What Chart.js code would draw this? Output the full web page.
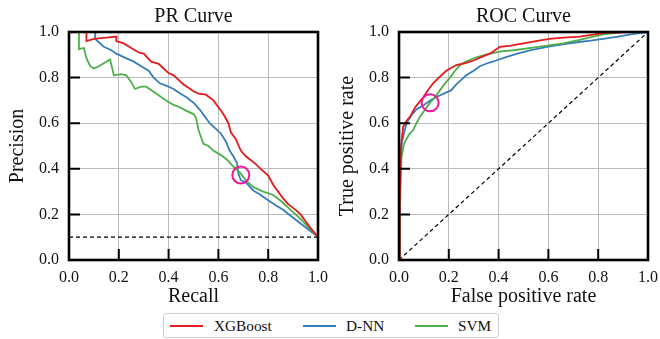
<!DOCTYPE html>
<html>
<head>
<meta charset="utf-8">
<script src="https://cdn.jsdelivr.net/npm/chart.js@4/dist/chart.umd.min.js"></script>
<style>
  body { margin: 0; background: #fff; width: 660px; height: 339px; overflow: hidden; font-family: "Liberation Serif", serif; }
  #prChart { position: absolute; left: 0; top: 0; }
  #rocChart { position: absolute; left: 330px; top: 0; }
  #legend { position: absolute; left: 163px; top: 313px; width: 336px; height: 25px; border: 1px solid #cfcfcf; border-radius: 3px; box-sizing: border-box; font-size: 15.3px; color: #111; }
  .item { position: absolute; top: 2px; line-height: 19px; }
  .swatch { position: absolute; top: 11px; height: 2px; width: 33px; }
</style>
</head>
<body>
<canvas id="prChart" width="330" height="310"></canvas>
<canvas id="rocChart" width="330" height="310"></canvas>
<div id="legend">
  <span class="swatch" style="left:6px;background:#e41a1c"></span><span class="item" style="left:50px">XGBoost</span>
  <span class="swatch" style="left:139px;background:#377eb8"></span><span class="item" style="left:182px">D-NN</span>
  <span class="swatch" style="left:251px;background:#4daf4a"></span><span class="item" style="left:294px">SVM</span>
</div>
<script>
const models = ["XGBoost", "D-NN", "SVM"];
const colors = ["#e41a1c", "#377eb8", "#4daf4a"];
const tickValues = [0, 0.2, 0.4, 0.6, 0.8, 1.0];

// PR curves (recall, precision)
const xgbRecall = [0.07,0.07,0.10,0.15,0.19,0.19,0.22,0.25,0.28,0.30,0.33,0.36,0.38,0.40,0.42,0.44,0.46,0.48,0.50,0.52,0.55,0.58,0.60,0.62,0.64,0.65,0.67,0.69,0.71,0.74,0.77,0.80,0.82,0.84,0.86,0.88,0.91,0.93,0.95,0.97,0.99,1.0];
const xgbPrecision = [1.0,0.96,0.97,0.975,0.98,0.96,0.95,0.93,0.91,0.905,0.87,0.86,0.84,0.82,0.81,0.79,0.77,0.755,0.74,0.73,0.725,0.70,0.67,0.64,0.60,0.56,0.53,0.48,0.455,0.43,0.40,0.37,0.33,0.30,0.27,0.245,0.22,0.20,0.17,0.14,0.115,0.10];
const dnnRecall = [0.105,0.105,0.12,0.14,0.17,0.19,0.22,0.26,0.29,0.32,0.34,0.365,0.39,0.42,0.44,0.47,0.50,0.525,0.545,0.565,0.59,0.61,0.63,0.645,0.66,0.675,0.68,0.69,0.71,0.74,0.77,0.795,0.83,0.86,0.90,0.93,0.96,0.99,1.0];
const dnnPrecision = [1.0,0.97,0.955,0.935,0.92,0.905,0.89,0.87,0.85,0.83,0.80,0.775,0.765,0.75,0.735,0.715,0.69,0.66,0.63,0.60,0.575,0.555,0.52,0.48,0.455,0.425,0.38,0.35,0.34,0.305,0.285,0.265,0.24,0.22,0.185,0.16,0.135,0.11,0.10];
const svmRecall = [0.04,0.04,0.06,0.07,0.085,0.10,0.12,0.165,0.18,0.21,0.23,0.25,0.265,0.29,0.31,0.35,0.39,0.42,0.445,0.47,0.50,0.51,0.52,0.54,0.56,0.58,0.61,0.635,0.66,0.685,0.71,0.74,0.78,0.82,0.85,0.89,0.93,0.96,1.0];
const svmPrecision = [1.0,0.925,0.93,0.885,0.85,0.84,0.85,0.88,0.81,0.815,0.81,0.78,0.75,0.76,0.76,0.73,0.70,0.68,0.67,0.655,0.64,0.625,0.57,0.51,0.50,0.48,0.46,0.44,0.41,0.385,0.35,0.32,0.30,0.285,0.26,0.22,0.18,0.145,0.10];
const prBaseline = 0.1;
const prMarker = [0.69, 0.373];

// ROC curves (fpr, tpr)
const xgbFpr = [0,0.003,0.005,0.01,0.017,0.03,0.045,0.065,0.08,0.098,0.12,0.137,0.16,0.19,0.23,0.27,0.30,0.33,0.365,0.405,0.45,0.50,0.55,0.605,0.66,0.725,0.82,0.93,1.0];
const xgbTpr = [0,0.25,0.40,0.52,0.585,0.61,0.63,0.67,0.69,0.715,0.75,0.775,0.80,0.83,0.855,0.865,0.875,0.89,0.905,0.935,0.94,0.95,0.96,0.97,0.975,0.98,0.995,1.0,1.0];
const dnnFpr = [0,0.004,0.007,0.01,0.03,0.05,0.07,0.10,0.125,0.15,0.18,0.21,0.23,0.25,0.27,0.30,0.325,0.36,0.39,0.43,0.475,0.53,0.595,0.65,0.715,0.77,0.82,0.88,0.93,1.0];
const dnnTpr = [0,0.30,0.42,0.51,0.60,0.635,0.66,0.68,0.70,0.715,0.73,0.745,0.77,0.79,0.81,0.83,0.85,0.865,0.875,0.89,0.905,0.92,0.935,0.945,0.955,0.962,0.97,0.98,0.99,1.0];
const svmFpr = [0,0.004,0.008,0.01,0.02,0.04,0.057,0.07,0.085,0.105,0.125,0.145,0.165,0.185,0.205,0.225,0.245,0.27,0.30,0.33,0.365,0.41,0.46,0.53,0.595,0.66,0.725,0.78,0.82,0.90,1.0];
const svmTpr = [0,0.22,0.38,0.45,0.51,0.55,0.57,0.60,0.63,0.66,0.69,0.715,0.745,0.775,0.80,0.83,0.855,0.87,0.885,0.895,0.905,0.915,0.92,0.93,0.94,0.95,0.965,0.98,0.99,1.0,1.0];
const rocMarker = [0.125, 0.69];

const serif = "'Liberation Serif', 'Times New Roman', serif";

function pts(xs, ys) { return xs.map((x, i) => ({ x: x, y: ys[i] })); }

function curve(label, data, color) {
    return { label: label, data: data, borderColor: color, borderWidth: 1.8, pointRadius: 0, fill: false, tension: 0, showLine: true };
}

// frame + inward ticks like the matplotlib original
const framePlugin = {
    id: "frame",
    afterDraw(chart) {
        const { ctx, chartArea: a, scales } = chart;
        ctx.save();
        ctx.strokeStyle = "#000";
        ctx.lineWidth = 2;
        tickValues.forEach(v => {
            const px = scales.x.getPixelForValue(v);
            const py = scales.y.getPixelForValue(v);
            ctx.beginPath();
            ctx.moveTo(px, a.bottom); ctx.lineTo(px, a.bottom - 11);
            ctx.moveTo(a.left, py); ctx.lineTo(a.left + 11, py);
            ctx.stroke();
        });
        ctx.lineWidth = 2.6;
        ctx.strokeRect(a.left, a.top, a.right - a.left, a.bottom - a.top);
        ctx.restore();
    }
};

function makeChart(id, title, xTitle, yTitle, datasets) {
    return new Chart(document.getElementById(id), {
        type: "scatter",
        data: { datasets: datasets },
        options: {
            responsive: false,
            animation: false,
            layout: { padding: { left: 0, right: 12, top: 0, bottom: 0 } },
            plugins: {
                legend: { display: false },
                tooltip: { enabled: false }
            },
            scales: {
                // top axis only carries the panel title, centred over the plot area
                top: {
                    type: "linear", position: "top", min: 0, max: 1,
                    afterFit: s => { s.height = 32; s.paddingLeft = 0; s.paddingRight = 0; },
                    ticks: { display: false },
                    grid: { display: false },
                    border: { display: false },
                    title: { display: true, text: title, color: "#111", font: { family: serif, size: 20, lineHeight: 1.2 }, padding: { top: 5, bottom: 0 } }
                },
                x: {
                    type: "linear", min: 0, max: 1,
                    afterFit: s => { s.height = 50; s.paddingLeft = 0; s.paddingRight = 0; },
                    ticks: { stepSize: 0.2, padding: 8, color: "#111", font: { family: serif, size: 16 }, callback: v => v.toFixed(1) },
                    grid: { color: "#bbbbbb", lineWidth: 1, drawTicks: false },
                    border: { display: false },
                    title: { display: true, text: xTitle, color: "#111", font: { family: serif, size: 20, lineHeight: 1.2 }, padding: { top: 0, bottom: 1 } }
                },
                y: {
                    type: "linear", min: 0, max: 1,
                    afterFit: s => { s.width = 69; s.paddingTop = 0; s.paddingBottom = 0; },
                    ticks: { stepSize: 0.2, padding: 10, color: "#111", font: { family: serif, size: 16 }, callback: v => v.toFixed(1) },
                    grid: { color: "#bbbbbb", lineWidth: 1, drawTicks: false },
                    border: { display: false },
                    title: { display: true, text: yTitle, color: "#111", font: { family: serif, size: 20, lineHeight: 1.2 }, padding: { top: 6, bottom: 0 } }
                }
            }
        },
        plugins: [framePlugin]
    });
}

function marker(p) {
    return { data: [{ x: p[0], y: p[1] }], showLine: false, pointRadius: 8.5, pointBorderWidth: 2, pointBorderColor: "#f0169a", pointBackgroundColor: "rgba(0,0,0,0)" };
}

function dashed(data) {
    return { data: data, borderColor: "#000", borderWidth: 1.2, borderDash: [4, 3], pointRadius: 0, showLine: true, fill: false };
}

makeChart("prChart", "PR Curve", "Recall", "Precision", [
    marker(prMarker),
    curve(models[0], pts(xgbRecall, xgbPrecision), colors[0]),
    curve(models[2], pts(svmRecall, svmPrecision), colors[2]),
    curve(models[1], pts(dnnRecall, dnnPrecision), colors[1]),
    dashed([{ x: 0, y: prBaseline }, { x: 1, y: prBaseline }])
]);

makeChart("rocChart", "ROC Curve", "False positive rate", "True positive rate", [
    marker(rocMarker),
    curve(models[0], pts(xgbFpr, xgbTpr), colors[0]),
    curve(models[2], pts(svmFpr, svmTpr), colors[2]),
    curve(models[1], pts(dnnFpr, dnnTpr), colors[1]),
    dashed([{ x: 0, y: 0 }, { x: 1, y: 1 }])
]);
</script>
</body>
</html>
